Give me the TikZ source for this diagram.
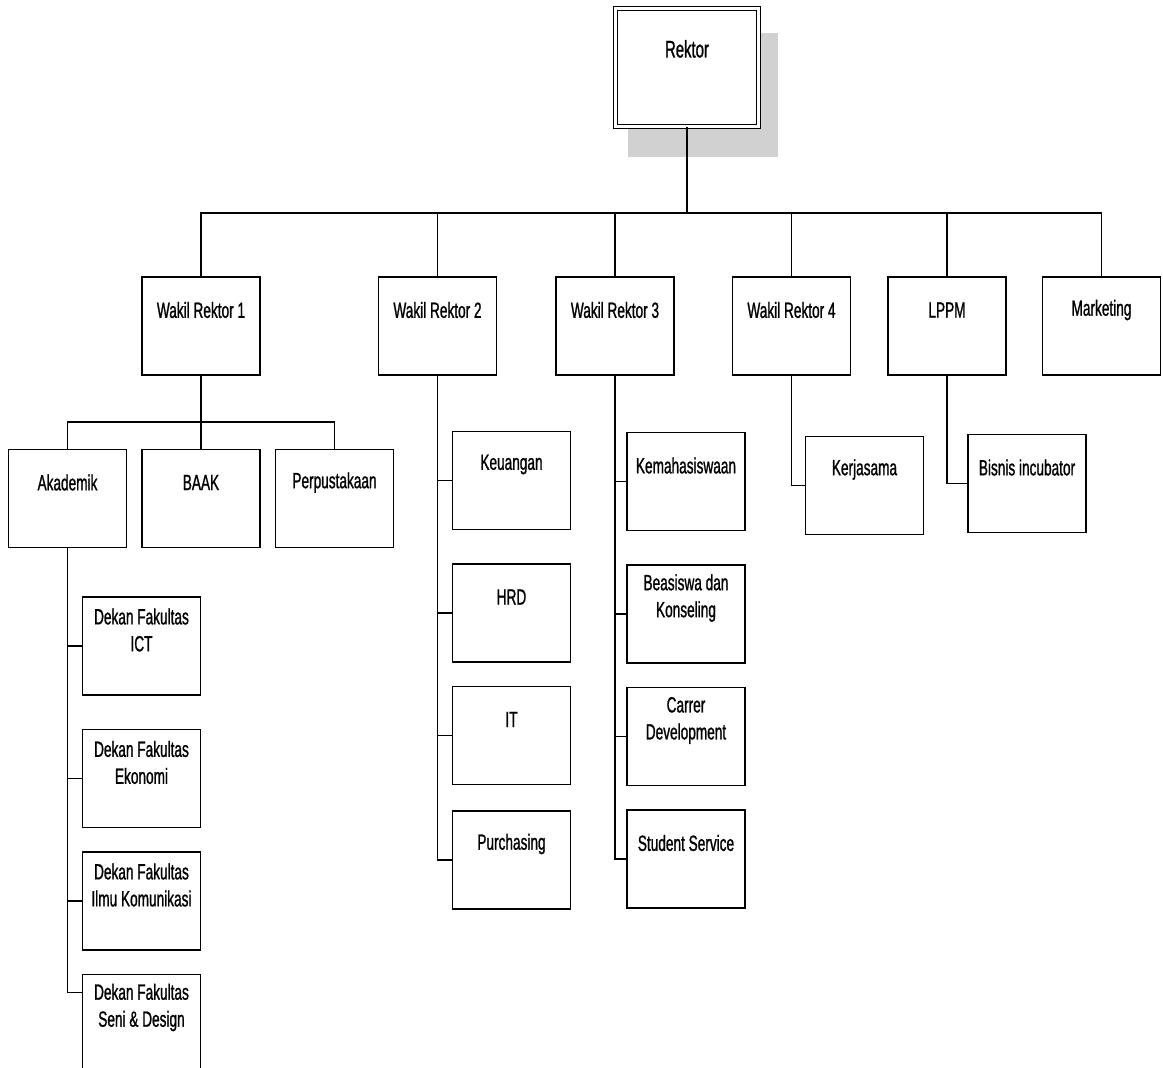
\documentclass[tikz,border=0pt]{standalone}
\usepackage{fontspec}
\newfontfamily\orgfont{Liberation Sans}[FakeStretch=0.62, FakeBold=1]
\usetikzlibrary{positioning, shadows}

\begin{document}
\begin{tikzpicture}[
    x=1pt, y=-1pt,
    unitbox/.style={rectangle, draw, line width=1.5pt, fill=white, minimum width=118pt, minimum height=98pt, inner sep=0pt, anchor=north},
    unittext/.style={anchor=center, yshift=-34pt, align=center, font=\orgfont\fontsize{22}{27}\selectfont},
    unit/.style={unitbox, label={[unittext]north:#1}},
    topbox/.style={rectangle, draw, line width=1.2pt, double, double distance=3pt, fill=white, minimum width=143pt, minimum height=118pt, inner sep=0pt, drop shadow={shadow xshift=15pt, shadow yshift=-26pt, shadow scale=1.05, fill=black!18, opacity=1}},
    toptext/.style={anchor=center, yshift=-41pt, font=\orgfont\fontsize{24}{28}\selectfont},
    link/.style={draw, line width=1.5pt},
]
\useasboundingbox (0,0) rectangle (1163,1068);

% Rektor
\node[topbox, label={[toptext]north:Rektor}] (rektor) at (687,67.5) {};

% Wakil Rektor row
\node[unit={Wakil Rektor 1}] (wr1) at (201,276) {};
\node[unit={Wakil Rektor 2}, right=117pt of wr1] (wr2) {};
\node[unit={Wakil Rektor 3}, right=58pt of wr2] (wr3) {};
\node[unit={Wakil Rektor 4}, right=57pt of wr3] (wr4) {};
\node[unit={LPPM}, right=36pt of wr4] (lppm) {};
\node[unit={Marketing}, right=35pt of lppm] (mkt) {};

% under Wakil Rektor 1
\node[unit={BAAK}, below=73pt of wr1] (baak) {};
\node[unit={Akademik}, left=14pt of baak] (akad) {};
\node[unit={Perpustakaan}, right=14pt of baak] (perp) {};

\node[unit={Dekan Fakultas\\ICT}, below=48pt of akad, xshift=74pt] (ict) {};
\node[unit={Dekan Fakultas\\Ekonomi}, below=33pt of ict] (eko) {};
\node[unit={Dekan Fakultas\\Ilmu Komunikasi}, below=23pt of eko] (ilkom) {};
\node[unit={Dekan Fakultas\\Seni \& Design}, below=23pt of ilkom] (seni) {};

% under Wakil Rektor 2
\node[unit={Keuangan}, below=55pt of wr2, xshift=74pt] (keu) {};
\node[unit={HRD}, below=33pt of keu] (hrd) {};
\node[unit={IT}, below=23pt of hrd] (it) {};
\node[unit={Purchasing}, below=25pt of it] (purch) {};

% under Wakil Rektor 3
\node[unit={Kemahasiswaan}, below=56pt of wr3, xshift=71pt] (kema) {};
\node[unit={Beasiswa dan\\Konseling}, below=33pt of kema] (beas) {};
\node[unit={Carrer\\Development}, below=23pt of beas] (carr) {};
\node[unit={Student Service}, below=23pt of carr] (stud) {};

% under Wakil Rektor 4 and LPPM
\node[unit={Kerjasama}, below=60pt of wr4, xshift=73pt] (kerja) {};
\node[unit={Bisnis incubator}, below=58pt of lppm, xshift=80pt] (bisnis) {};

% connectors
\coordinate (busy) at (0,213);
\coordinate (subbusy) at (0,422);

\draw[link] (rektor.south) -- (rektor.south |- busy);
\draw[link] (wr1.north) |- (mkt.north |- busy) -- (mkt.north);
\draw[link] (wr2.north) -- (wr2.north |- busy);
\draw[link] (wr3.north) -- (wr3.north |- busy);
\draw[link] (wr4.north) -- (wr4.north |- busy);
\draw[link] (lppm.north) -- (lppm.north |- busy);

\draw[link] (wr1.south) -- (baak.north);
\draw[link] (akad.north) |- (perp.north |- subbusy) -- (perp.north);

\draw[link] (akad.south) |- (ict.west);
\draw[link] (akad.south) |- (eko.west);
\draw[link] (akad.south) |- (ilkom.west);
\draw[link] (akad.south) |- ([yshift=-19pt]seni.north west);

\draw[link] (wr2.south) |- (keu.west);
\draw[link] (wr2.south) |- (hrd.west);
\draw[link] (wr2.south) |- (it.west);
\draw[link] (wr2.south) |- (purch.west);

\draw[link] (wr3.south) |- (kema.west);
\draw[link] (wr3.south) |- (beas.west);
\draw[link] (wr3.south) |- (carr.west);
\draw[link] (wr3.south) |- (stud.west);

\draw[link] (wr4.south) |- (kerja.west);
\draw[link] (lppm.south) |- (bisnis.west);

\end{tikzpicture}
\end{document}
